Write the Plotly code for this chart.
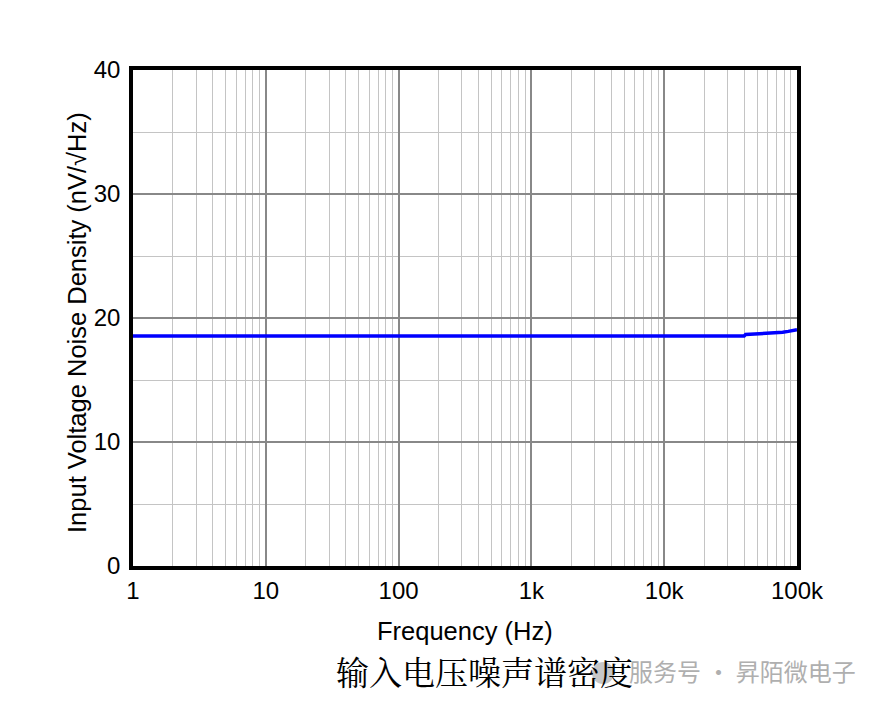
import plotly.graph_objects as go

# Data
freq_hz = [1, 10, 100, 1000, 10000, 40000, 41000, 62000, 78000, 86000, 93000, 100000]
noise_nv = [18.55, 18.55, 18.55, 18.55, 18.55, 18.55, 18.67, 18.75, 18.85, 18.92, 19.0, 19.05]

x_tickvals = [1, 10, 100, 1000, 10000, 100000]
x_ticktext = ["1", "10", "100", "1k", "10k", "100k"]
x_minorvals = [k * 10 ** d for d in range(5) for k in range(2, 10)]
y_tickvals = [0, 10, 20, 30, 40]

# page body has an 8px margin; figure sized so it fits the window
OFF = 8
W, H = 885 - OFF, 708 - OFF
L, T = 133 - OFF, 70 - OFF
R = W - (797 - OFF)
B = H - (566 - OFF)
pw, ph = W - L - R, H - T - B


def px(xs):  # screen x -> paper
    return (xs - OFF - L) / pw


def py(ys):  # screen y -> paper
    return (H - B - (ys - OFF)) / ph


FONT = "Liberation Sans, Arial, sans-serif"

fig = go.Figure()
fig.add_trace(go.Scatter(
    x=freq_hz, y=noise_nv, mode="lines",
    line=dict(color="#0000FF", width=3.5),
    showlegend=False, hoverinfo="skip",
))

fig.update_layout(
    width=W, height=H,
    margin=dict(l=L, r=R, t=T, b=B, pad=0),
    paper_bgcolor="white", plot_bgcolor="white",
    font=dict(family=FONT, size=24, color="black"),
    showlegend=False,
)

fig.update_xaxes(
    type="log", range=[0, 5],
    tickvals=x_tickvals, ticktext=x_ticktext,
    ticks="", showgrid=True, gridcolor="#888888", gridwidth=2,
    minor=dict(tickvals=x_minorvals, showgrid=True, gridcolor="#C4C4C4", gridwidth=1, ticks=""),
    showline=True, mirror=True, linecolor="black", linewidth=3.5,
    zeroline=False, tickfont=dict(size=24), ticklabelstandoff=0,
)
fig.update_yaxes(
    range=[0, 40], tickvals=y_tickvals,
    ticks="", showgrid=True, gridcolor="#888888", gridwidth=2,
    minor=dict(dtick=5, showgrid=True, gridcolor="#C4C4C4", gridwidth=1, ticks=""),
    showline=True, mirror=True, linecolor="black", linewidth=3.5,
    zeroline=False, tickfont=dict(size=24), ticklabelstandoff=4,
)

fig.add_annotation(x=px(465), y=py(631), xref="paper", yref="paper",
                   text="Frequency (Hz)", showarrow=False,
                   font=dict(size=25.5, family=FONT), xanchor="center", yanchor="middle")
fig.add_annotation(x=px(77), y=py(323), xref="paper", yref="paper",
                   text="Input Voltage Noise Density (nV/√Hz)", showarrow=False, textangle=-90,
                   font=dict(size=25.5, family=FONT), xanchor="center", yanchor="middle")

# Caption and watermark
fig.add_shape(type="circle", xref="paper", yref="paper",
              x0=px(592), x1=px(614), y0=py(684), y1=py(662),
              fillcolor="rgba(175,175,175,0.7)", line=dict(width=0))
fig.add_annotation(x=px(484), y=py(670), xref="paper", yref="paper",
                   text="输入电压噪声谱密度", showarrow=False,
                   font=dict(size=33, family="Noto Serif CJK SC, Noto Sans CJK SC", color="black"),
                   xanchor="center", yanchor="middle")
fig.add_annotation(x=px(627), y=py(670), xref="paper", yref="paper",
                   text="服务号 · 昇陌微电子", showarrow=False,
                   font=dict(size=24, family="Noto Sans CJK SC", color="#AFAFAF"),
                   xanchor="left", yanchor="middle")

fig.write_html("out.html")
